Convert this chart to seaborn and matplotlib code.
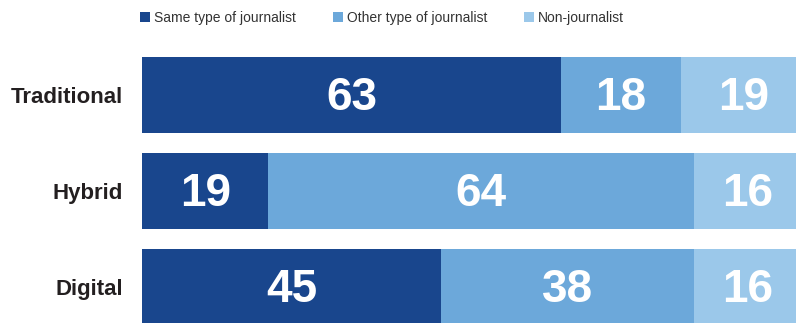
import matplotlib
matplotlib.use('Agg')
import matplotlib.pyplot as plt
from matplotlib.patches import Patch
from matplotlib.font_manager import FontProperties
import seaborn as sns
import pandas as pd
import numpy as np

categories = ['Traditional', 'Hybrid', 'Digital']
same_type = [63, 19, 45]
other_type = [18, 64, 38]
non_journalist = [19, 16, 16]
series_names = ['Same type of journalist', 'Other type of journalist', 'Non-journalist']
colors = ['#19468d', '#6ca8da', '#9bc8ea']

sns.set_theme(style='white')
plt.rcParams['font.family'] = ['Liberation Sans', 'DejaVu Sans']

df = pd.DataFrame({'category': categories, 'same': same_type,
                   'other': other_type, 'non': non_journalist})
df['c1'] = df['same']
df['c2'] = df['same'] + df['other']
df['c3'] = df['c2'] + df['non']

fig = plt.figure(figsize=(7.96, 3.23), dpi=100)
ax = fig.add_axes([142 / 796, 0, (796 - 142) / 796, (323 - 57) / 323])

for col, colr in zip(['c3', 'c2', 'c1'], colors[::-1]):
    sns.barplot(data=df, x=col, y='category', orient='h', color=colr,
                saturation=1, width=0.79, linewidth=0, ax=ax)

series = [same_type, other_type, non_journalist]
for i in range(len(categories)):
    left = 0
    for s in series:
        v = s[i]
        ax.text(left + v / 2, i - 0.02, str(v), ha='center', va='center_baseline',
                color='white', fontsize=33, fontweight='bold')
        left += v

ax.set_xlim(0, 98.3)
ax.set_ylim(2.375, -0.396)
ax.set_xlabel('')
ax.set_ylabel('')
ax.set_xticks([])
ax.set_yticks(range(len(categories)))
ax.set_yticklabels(categories, fontsize=16, fontweight='bold', color='#231f20')
ax.tick_params(axis='y', length=0, pad=13.7)
for sp in ax.spines.values():
    sp.set_visible(False)

handles = [Patch(facecolor=c, edgecolor='none') for c in colors]
leg = fig.legend(handles, series_names, loc='center left',
                 bbox_to_anchor=(140 / 796, 1 - 18 / 323), ncol=3,
                 frameon=False, borderaxespad=0, borderpad=0,
                 handlelength=0.72, handleheight=0.72, handletextpad=0.29,
                 columnspacing=2.65,
                 prop=FontProperties(family=['Liberation Sans'], size=10))
for t in leg.get_texts():
    t.set_color('#333333')

fig.savefig('out.png', dpi=100)
